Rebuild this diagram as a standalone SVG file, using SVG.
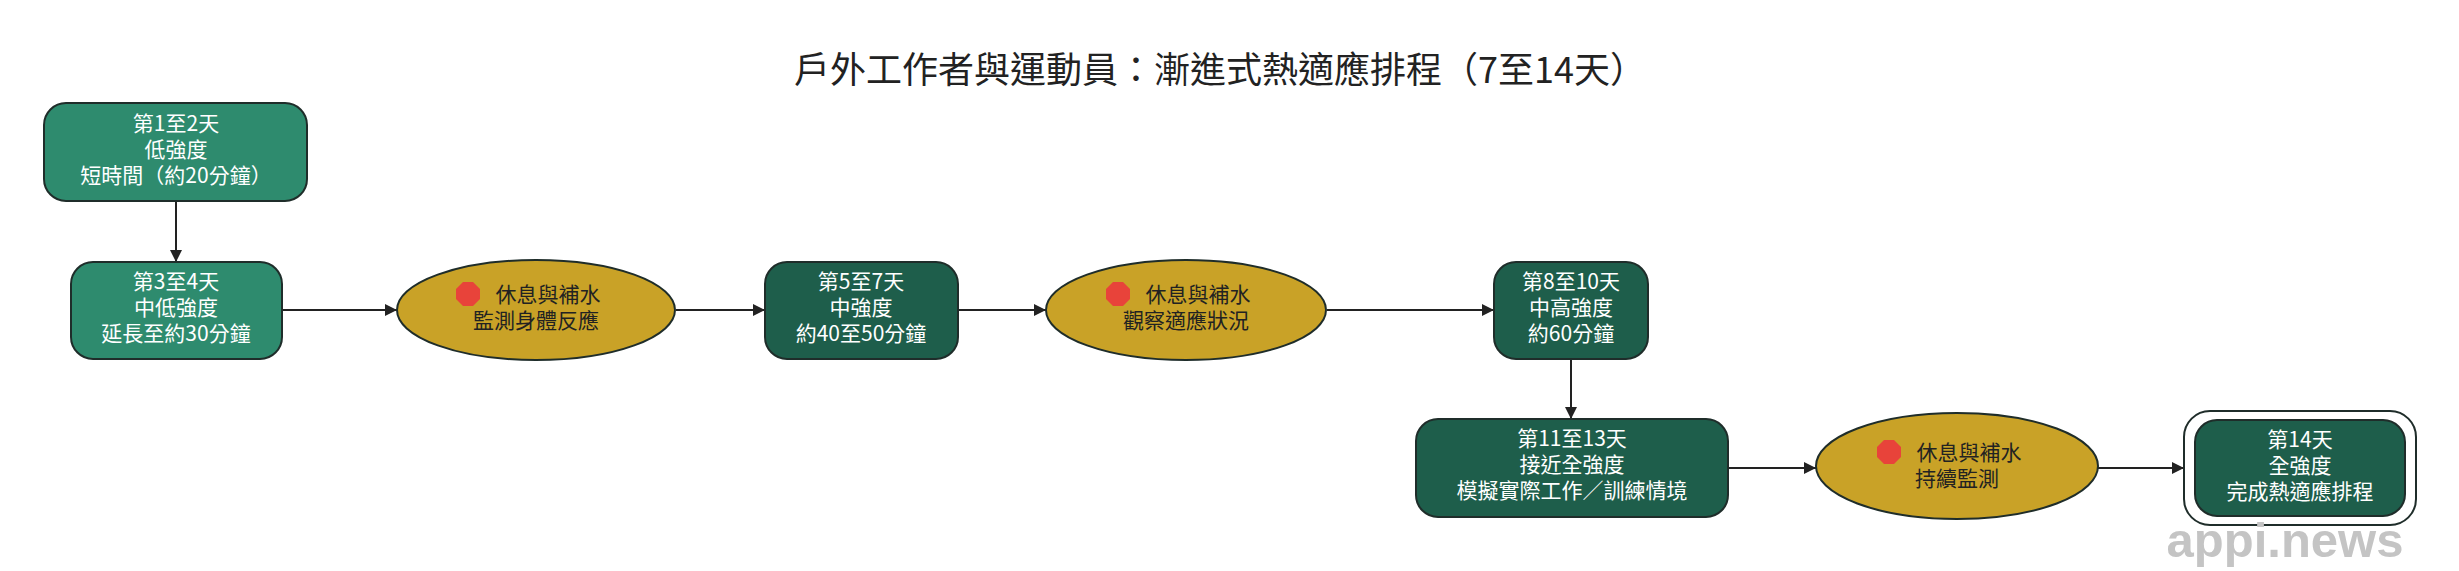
<svg xmlns="http://www.w3.org/2000/svg" width="2459" height="571" viewBox="0 0 2459 571">
<defs>
<style>
text{font-family:"Noto Sans CJK TC","Noto Sans CJK SC",sans-serif;font-size:21px;text-anchor:middle}
.t{fill:#fff}.d{fill:#222}
.a{fill:#2e8b6e;stroke:#1f2d2a;stroke-width:2}
.b{fill:#1e5e4b;stroke:#1f2d2a;stroke-width:2}
.e{fill:#c9a227;stroke:#1f2d2a;stroke-width:2}
.c{stroke:#222;stroke-width:2;fill:none;marker-end:url(#ar)}
.s{fill:#e8433a}
</style>
<marker id="ar" viewBox="0 0 10 10" refX="10" refY="5" markerWidth="12" markerHeight="12" markerUnits="userSpaceOnUse" orient="auto"><path d="M0,0L10,5L0,10z" fill="#222"/></marker>
<polygon id="stop" points="-5,-12 5,-12 12,-5 12,5 5,12 -5,12 -12,5 -12,-5"/>
</defs>
<rect width="2459" height="571" fill="#fff"/>
<text x="1220" y="83" style="font-size:36px" fill="#222">戶外工作者與運動員：漸進式熱適應排程（7至14天）</text>
<g id="connectors">
<path class="c" d="M176,201V262"/>
<path class="c" d="M282,310H397"/>
<path class="c" d="M676,310H765"/>
<path class="c" d="M958,310H1046"/>
<path class="c" d="M1327,310H1494"/>
<path class="c" d="M1571,359V419"/>
<path class="c" d="M1728,468H1816"/>
<path class="c" d="M2098,468H2184"/>
</g>
<g id="n1"><rect class="a" x="44" y="103" width="263" height="98" rx="22"/><text class="t" x="176" y="131">第1至2天</text><text class="t" x="176" y="157">低強度</text><text class="t" x="176" y="183">短時間（約20分鐘）</text></g>
<g id="n2"><rect class="a" x="71" y="262" width="211" height="97" rx="22"/><text class="t" x="176" y="289">第3至4天</text><text class="t" x="176" y="315">中低強度</text><text class="t" x="176" y="341">延長至約30分鐘</text></g>
<g id="r1"><ellipse class="e" cx="536" cy="310" rx="139" ry="50"/><use href="#stop" class="s" x="468" y="294"/><text class="d" x="548" y="302">休息與補水</text><text class="d" x="536" y="328">監測身體反應</text></g>
<g id="n3"><rect class="b" x="765" y="262" width="193" height="97" rx="22"/><text class="t" x="861" y="289">第5至7天</text><text class="t" x="861" y="315">中強度</text><text class="t" x="861" y="341">約40至50分鐘</text></g>
<g id="r2"><ellipse class="e" cx="1186" cy="310" rx="140" ry="50"/><use href="#stop" class="s" x="1118" y="294"/><text class="d" x="1198" y="302">休息與補水</text><text class="d" x="1186" y="328">觀察適應狀況</text></g>
<g id="n4"><rect class="b" x="1494" y="262" width="154" height="97" rx="22"/><text class="t" x="1571" y="289">第8至10天</text><text class="t" x="1571" y="315">中高強度</text><text class="t" x="1571" y="341">約60分鐘</text></g>
<g id="n5"><rect class="b" x="1416" y="419" width="312" height="98" rx="22"/><text class="t" x="1572" y="446">第11至13天</text><text class="t" x="1572" y="472">接近全強度</text><text class="t" x="1572" y="498">模擬實際工作／訓練情境</text></g>
<g id="r3"><ellipse class="e" cx="1957" cy="466" rx="141" ry="53"/><use href="#stop" class="s" x="1889" y="452"/><text class="d" x="1969" y="460">休息與補水</text><text class="d" x="1957" y="486">持續監測</text></g>
<g id="n6"><rect x="2184" y="411" width="232" height="114" rx="26" fill="#fff" stroke="#1f2d2a" stroke-width="2"/><rect class="b" x="2195" y="420" width="210" height="96" rx="22"/><text class="t" x="2300" y="447">第14天</text><text class="t" x="2300" y="473">全強度</text><text class="t" x="2300" y="499">完成熱適應排程</text></g>
<text x="2285" y="557" style="font-family:'Liberation Sans',sans-serif;font-size:49px;font-weight:bold" fill="#c4c4c4">appi.news</text>
</svg>
